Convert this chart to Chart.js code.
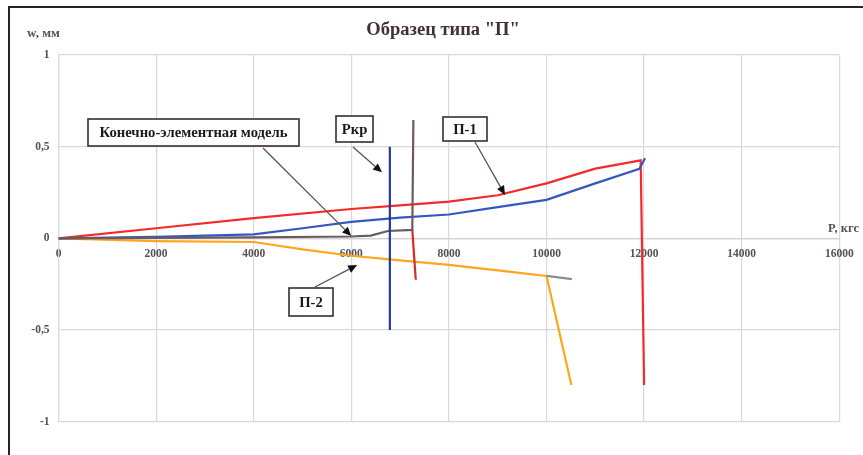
<!DOCTYPE html>
<html>
<head>
<meta charset="utf-8">
<script src="https://cdn.jsdelivr.net/npm/chart.js@4.4.1/dist/chart.umd.min.js"></script>
<style>
  html, body { margin: 0; padding: 0; background: #ffffff; }
  #wrap { width: 863px; height: 455px; position: relative; }
</style>
</head>
<body>
<div id="wrap"><canvas id="chart" width="863" height="455"></canvas></div>
<script>
// Load P (kgf) and deflection w (mm) for each specimen curve
const p1Load = [0, 2000, 4000, 6000, 7000, 8000, 9000, 10000, 11000, 11930, 12000];
const p1Defl = [0, 0.055, 0.11, 0.16, 0.18, 0.20, 0.235, 0.30, 0.38, 0.425, -0.80];

const feLoad = [0, 2000, 4000, 6000, 6400, 6750, 7250, 7272];
const feDefl = [0, 0.003, 0.005, 0.01, 0.015, 0.04, 0.046, 0.646];

const feTailLoad = [7250, 7321];
const feTailDefl = [0.046, -0.226];

const blueLoad = [0, 2000, 4000, 5000, 6000, 7000, 8000, 9000, 10000, 11000, 11904, 12020];
const blueDefl = [0, 0.008, 0.022, 0.055, 0.09, 0.113, 0.13, 0.17, 0.21, 0.30, 0.379, 0.437];

const p2Load = [0, 2000, 4000, 5000, 6000, 7000, 8000, 9000, 10000, 10510];
const p2Defl = [0, -0.015, -0.02, -0.06, -0.095, -0.12, -0.145, -0.175, -0.205, -0.80];

const greyLoad = [10000, 10520];
const greyDefl = [-0.205, -0.222];

const pcrLoad = [6790, 6790];
const pcrDefl = [0.5, -0.5];

const xTicks = [0, 2000, 4000, 6000, 8000, 10000, 12000, 14000, 16000];
const yTicks = [-1, -0.5, 0, 0.5, 1];

const zip = (xs, ys) => xs.map((x, i) => ({ x: x, y: ys[i] }));

const SERIF = '"Liberation Serif", "Times New Roman", serif';

// Callout boxes: text, box rectangle, line start and the data point the arrow hits
const callouts = [
  { text: 'Конечно-элементная модель', box: [88, 119, 211, 27], from: [263, 148], to: { x: 6000, y: 0.013 } },
  { text: 'Pкр', box: [336, 116, 37, 26], from: [353, 147], to: { x: 6630, y: 0.36 } },
  { text: 'П-1', box: [443, 117, 44, 24], from: [475, 142], to: { x: 9150, y: 0.237 } },
  { text: 'П-2', box: [289, 288, 44, 28], from: [315, 287], to: { x: 6120, y: -0.145 } }
];

const framePlugin = {
  id: 'frame',
  beforeDraw(chart) {
    const ctx = chart.ctx;
    ctx.save();
    ctx.fillStyle = '#ffffff';
    ctx.fillRect(0, 0, chart.width, chart.height);
    ctx.restore();
  },
  afterDraw(chart) {
    const ctx = chart.ctx;
    ctx.save();
    // outer frame (top and left edges)
    ctx.strokeStyle = '#2d1f2a';
    ctx.lineWidth = 2;
    ctx.beginPath();
    ctx.moveTo(9, chart.height);
    ctx.lineTo(9, 7);
    ctx.lineTo(chart.width, 7);
    ctx.stroke();

    // title
    ctx.fillStyle = '#403039';
    ctx.font = 'bold 18.5px ' + SERIF;
    ctx.textAlign = 'center';
    ctx.textBaseline = 'middle';
    ctx.fillText('Образец типа "П"', 443, 30);

    // axis titles
    ctx.fillStyle = '#555055';
    ctx.font = 'bold 13px ' + SERIF;
    ctx.textAlign = 'left';
    ctx.fillText('w, мм', 27, 34);
    ctx.font = 'bold 12.5px ' + SERIF;
    ctx.fillText('P, кгс', 828, 229);

    // callouts
    const xs = chart.scales.x, ys = chart.scales.y;
    callouts.forEach(c => {
      const tx = xs.getPixelForValue(c.to.x);
      const ty = ys.getPixelForValue(c.to.y);
      const [fx, fy] = c.from;
      const ang = Math.atan2(ty - fy, tx - fx);
      const head = 9, half = 4;
      const bx = tx - head * Math.cos(ang), by = ty - head * Math.sin(ang);
      ctx.strokeStyle = '#5a5258';
      ctx.lineWidth = 1.3;
      ctx.beginPath();
      ctx.moveTo(fx, fy);
      ctx.lineTo(bx, by);
      ctx.stroke();
      ctx.fillStyle = '#111111';
      ctx.beginPath();
      ctx.moveTo(tx, ty);
      ctx.lineTo(bx + half * Math.sin(ang), by - half * Math.cos(ang));
      ctx.lineTo(bx - half * Math.sin(ang), by + half * Math.cos(ang));
      ctx.closePath();
      ctx.fill();

      const [rx, ry, rw, rh] = c.box;
      ctx.fillStyle = '#ffffff';
      ctx.fillRect(rx, ry, rw, rh);
      ctx.strokeStyle = '#3a2a32';
      ctx.lineWidth = 1.6;
      ctx.strokeRect(rx, ry, rw, rh);
      ctx.fillStyle = '#1a1a1a';
      ctx.font = 'bold 14.7px ' + SERIF;
      ctx.textAlign = 'center';
      ctx.textBaseline = 'middle';
      ctx.fillText(c.text, rx + rw / 2, ry + rh / 2 + 1);
    });
    ctx.restore();
  }
};

const line = (data, color, order, extra) => Object.assign({
  data: data,
  borderColor: color,
  backgroundColor: color,
  borderWidth: 2.2,
  pointRadius: 0,
  showLine: true,
  tension: 0,
  fill: false,
  order: order
}, extra || {});

new Chart(document.getElementById('chart'), {
  type: 'scatter',
  data: {
    datasets: [
      line(zip(pcrLoad, pcrDefl), '#22399a', 0),
      line(zip(feLoad, feDefl), '#6b5a60', 1),
      line(zip(feTailLoad, feTailDefl), '#d42c2c', 2),
      line(zip(blueLoad, blueDefl), '#3558c0', 3),
      line(zip(p1Load, p1Defl), '#f42a2a', 4),
      line(zip(greyLoad, greyDefl), '#8f8a8f', 5),
      line(zip(p2Load, p2Defl), '#ffa51f', 6)
    ]
  },
  options: {
    responsive: false,
    animation: false,
    devicePixelRatio: 1,
    layout: { padding: { top: 55, right: 23.7, bottom: 33.3, left: 0 } },
    plugins: {
      legend: { display: false },
      title: { display: false },
      tooltip: { enabled: false }
    },
    scales: {
      x: {
        type: 'linear',
        min: 0,
        max: 16000,
        position: { y: 0 },
        afterBuildTicks: s => { s.ticks = xTicks.map(v => ({ value: v })); },
        grid: { color: '#d9d9d9', lineWidth: 1.2, drawTicks: false },
        border: { color: '#d0d0d0', width: 1.2 },
        ticks: {
          padding: 9,
          maxRotation: 0,
          autoSkip: false,
          color: '#555055',
          font: { family: SERIF, size: 11.5, weight: 'bold' },
          callback: v => String(v)
        }
      },
      y: {
        type: 'linear',
        min: -1,
        max: 1,
        position: 'left',
        afterFit: s => { s.width = 58.5; },
        afterBuildTicks: s => { s.ticks = yTicks.map(v => ({ value: v })); },
        grid: { color: '#d9d9d9', lineWidth: 1.2, drawTicks: false },
        border: { color: '#d9d9d9', width: 1.2 },
        ticks: {
          padding: 9,
          color: '#555055',
          font: { family: SERIF, size: 11.5, weight: 'bold' },
          callback: v => String(v).replace('.', ',')
        }
      }
    }
  },
  plugins: [framePlugin]
});
</script>
</body>
</html>
